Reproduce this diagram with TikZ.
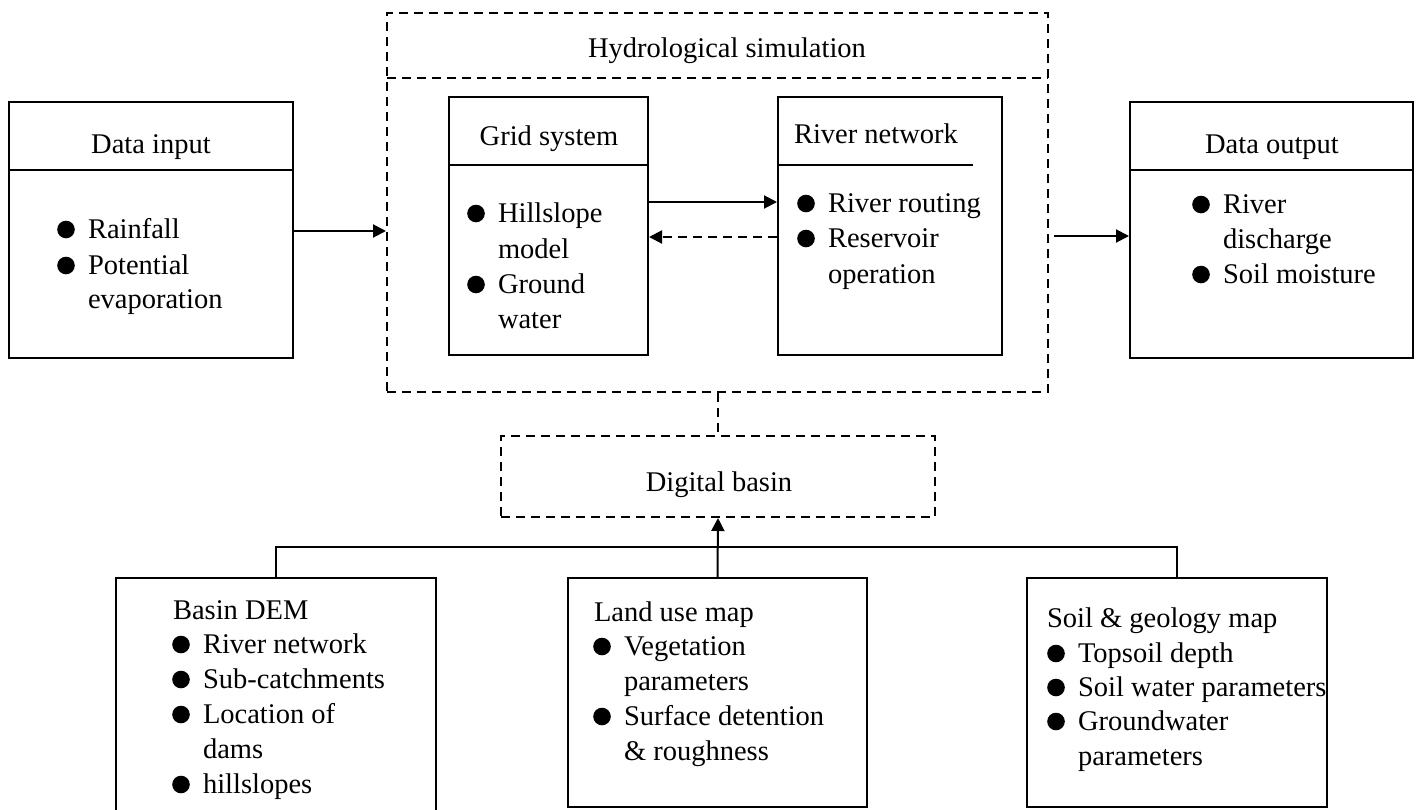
\documentclass[tikz,border=0pt]{standalone}
\usepackage{fontspec}
\setmainfont{Liberation Serif}
\usetikzlibrary{arrows.meta}
\newcommand\bitem[4]{%
  \fill (#2-21,#3-8.5) circle[radius=8.8pt];
  \node[txt,anchor=base west] (#1) at (#2,#3) {#4};}
\newcommand\contline[4]{\node[txt,anchor=base west] (#1) at (#2,#3) {#4};}
\begin{document}
\begin{tikzpicture}[x=1pt,y=-1pt,line width=2pt,
  txt/.style={font=\fontsize{28.5}{34}\selectfont,inner sep=0pt},
  box/.style={draw,inner sep=0pt},
  dbox/.style={draw,dash pattern=on 9pt off 6pt,inner sep=0pt},
  dline/.style={dash pattern=on 9pt off 6pt},
  arr/.style={-{Triangle[length=13pt,width=13pt]}}]
\useasboundingbox (0,0) rectangle (1417,809);

% boxes
\node[box,minimum width=284pt,minimum height=256pt] (din) at (151,230) {};
\node[dbox,minimum width=661pt,minimum height=379pt] (hydro) at (717.5,202.5) {};
\node[box,minimum width=199pt,minimum height=258pt] (grid) at (548.5,226) {};
\node[box,minimum width=224pt,minimum height=258pt] (river) at (890,226) {};
\node[box,minimum width=283pt,minimum height=256pt] (dout) at (1271.5,230) {};
\node[dbox,minimum width=434pt,minimum height=81pt] (db) at (718,476.5) {};
\node[box,minimum width=320pt,minimum height=252pt] (dem) at (276,704) {};
\node[box,minimum width=299pt,minimum height=229pt] (land) at (717.5,692.5) {};
\node[box,minimum width=300pt,minimum height=229pt] (soil) at (1177,692.5) {};

% dividers
\draw (9,170) -- (293,170);
\draw[dline] (387,78) -- (1048,78);
\draw (449,165) -- (648,165);
\draw (778,165) -- (973,165);
\draw (1130,170) -- (1413,170);

% titles
\node[txt,anchor=base] (tdin) at (151,153) {Data input};
\node[txt,anchor=base] (thydro) at (727,57) {Hydrological simulation};
\node[txt,anchor=base] (tgrid) at (549,145) {Grid system};
\node[txt,anchor=base west] (triver) at (793,143) {River network};
\node[txt,anchor=base] (tdout) at (1272,153) {Data output};
\node[txt,anchor=base] (tdb) at (719,491) {Digital basin};
\node[txt,anchor=base west] (tdem) at (172,619) {Basin DEM};
\node[txt,anchor=base west] (tland) at (593,621) {Land use map};
\node[txt,anchor=base west] (tsoil) at (1046,627) {Soil \& geology map};

% items
\bitem{i1}{87}{238}{Rainfall}
\bitem{i2}{87}{274}{Potential}
\contline{i3}{87}{308}{evaporation}

\bitem{g1}{497}{222}{Hillslope}
\contline{g2}{497}{258}{model}
\bitem{g3}{497}{293}{Ground}
\contline{g4}{497}{328}{water}

\bitem{r1}{827}{212}{River routing}
\bitem{r2}{827}{247}{Reservoir}
\contline{r3}{827}{283}{operation}

\bitem{o1}{1222}{213}{River}
\contline{o2}{1222}{248}{discharge}
\bitem{o3}{1222}{283}{Soil moisture}

\bitem{d1}{202}{653}{River network}
\bitem{d2}{202}{688}{Sub-catchments}
\bitem{d3}{202}{723}{Location of}
\contline{d4}{202}{758}{dams}
\bitem{d5}{202}{793}{hillslopes}

\bitem{l1}{623}{655}{Vegetation}
\contline{l2}{623}{690}{parameters}
\bitem{l3}{623}{725}{Surface detention}
\contline{l4}{623}{760}{\& roughness}

\bitem{s1}{1077}{662}{Topsoil depth}
\bitem{s2}{1077}{696}{Soil water parameters}
\bitem{s3}{1077}{730}{Groundwater}
\contline{s4}{1077}{765}{parameters}

% connectors
\draw[arr] (din.east |- 0,231) -- (hydro.west |- 0,231);
\draw[arr] (grid.east |- 0,202) -- (river.west |- 0,202);
\draw[arr,dline] (river.west |- 0,237) -- (grid.east |- 0,237);
\coordinate (hs) at ([xshift=5pt]hydro.east |- 0,236);
\draw[arr] (hs) -- (dout.west |- hs);
\draw[dline] (db.north |- hydro.south) -- (db.north);
\draw[arr] (land.north) -- (db.south);
\draw (dem.north) -- ++(0,-30) -| (soil.north);
\end{tikzpicture}
\end{document}
